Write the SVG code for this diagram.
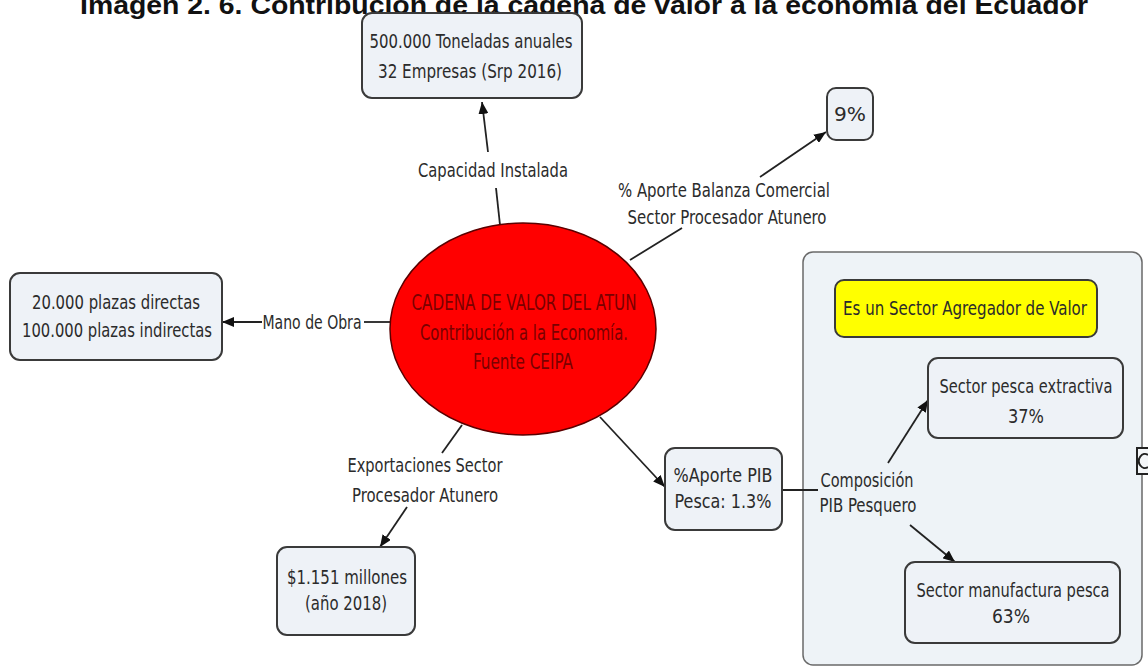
<svg xmlns="http://www.w3.org/2000/svg" width="1148" height="668" viewBox="0 0 1148 668">
<defs>
<marker id="ah" viewBox="0 0 12 10" refX="12" refY="5" markerWidth="12" markerHeight="10" markerUnits="userSpaceOnUse" orient="auto">
<path d="M0,0 L12,5 L0,10 z" fill="#111"/>
</marker>
<style>
.box{fill:#eef2f7;stroke:#3a3a3a;stroke-width:2}
.cont{fill:#eef3f7;stroke:#6a6a6a;stroke-width:1.5}
.t{font-family:"DejaVu Sans Condensed","DejaVu Sans","Liberation Sans",sans-serif;font-size:19px;fill:#2b2b2b;text-anchor:middle}
.et{font-family:"DejaVu Sans Condensed","DejaVu Sans","Liberation Sans",sans-serif;font-size:21px;fill:#7a0000;text-anchor:middle}
.ln{stroke:#222;stroke-width:1.8;fill:none}
.ttl{font-family:"Liberation Sans",Arial,sans-serif;font-size:25px;font-weight:bold;fill:#111}
</style>
</defs>
<rect width="1148" height="668" fill="#fff"/>
<text class="ttl" x="80" y="14" textLength="1008" lengthAdjust="spacingAndGlyphs">Imagen 2. 6. Contribución de la cadena de valor a la economía del Ecuador</text>

<g id="container">
<rect class="cont" x="803" y="252" width="339" height="413" rx="10"/>
</g>

<g id="connectors">
<path class="ln" d="M500,225 L496,188"/>
<path class="ln" d="M488,152 L482,102" marker-end="url(#ah)"/>
<text class="t" x="493" y="177" textLength="150" lengthAdjust="spacingAndGlyphs">Capacidad Instalada</text>
<path class="ln" d="M630,260 L682,228"/>
<path class="ln" d="M760,177 L826,132" marker-end="url(#ah)"/>
<text class="t" x="724" y="197" textLength="212" lengthAdjust="spacingAndGlyphs">% Aporte Balanza Comercial</text>
<text class="t" x="727" y="224" textLength="199" lengthAdjust="spacingAndGlyphs">Sector Procesador Atunero</text>
<path class="ln" d="M391,322 L364,322"/>
<path class="ln" d="M262,322 L222,322" marker-end="url(#ah)"/>
<text class="t" x="312" y="329" textLength="99" lengthAdjust="spacingAndGlyphs">Mano de Obra</text>
<path class="ln" d="M462,425 L442,453"/>
<path class="ln" d="M407,507 L380,547" marker-end="url(#ah)"/>
<text class="t" x="425" y="472" textLength="155" lengthAdjust="spacingAndGlyphs">Exportaciones Sector</text>
<text class="t" x="425" y="502" textLength="146" lengthAdjust="spacingAndGlyphs">Procesador Atunero</text>
<path class="ln" d="M600,417 L665,487" marker-end="url(#ah)"/>
<path class="ln" d="M782,490 L818,490"/>
<text class="t" x="867" y="487" textLength="93" lengthAdjust="spacingAndGlyphs">Composición</text>
<text class="t" x="868" y="512" textLength="97" lengthAdjust="spacingAndGlyphs">PIB Pesquero</text>
<path class="ln" d="M888,463 L928,400" marker-end="url(#ah)"/>
<path class="ln" d="M910,525 L955,562" marker-end="url(#ah)"/>
</g>

<g id="n-capacidad">
<rect class="box" x="362" y="13" width="220" height="85" rx="10"/>
<text class="t" x="471" y="48" textLength="203" lengthAdjust="spacingAndGlyphs">500.000 Toneladas anuales</text>
<text class="t" x="470" y="78" textLength="184" lengthAdjust="spacingAndGlyphs">32 Empresas (Srp 2016)</text>
</g>

<g id="n-9">
<rect class="box" x="827" y="88" width="46" height="52" rx="9"/>
<text class="t" x="850" y="121" textLength="32" lengthAdjust="spacingAndGlyphs">9%</text>
</g>

<g id="n-plazas">
<rect class="box" x="10" y="273" width="212" height="87" rx="10"/>
<text class="t" x="116" y="309" textLength="168" lengthAdjust="spacingAndGlyphs">20.000 plazas directas</text>
<text class="t" x="117" y="337" textLength="190" lengthAdjust="spacingAndGlyphs">100.000 plazas indirectas</text>
</g>

<g id="n-cadena">
<ellipse cx="523" cy="329" rx="133" ry="106" fill="#ff0000" stroke="#5a0000" stroke-width="1.5"/>
<text class="et" x="524" y="310" textLength="225" lengthAdjust="spacingAndGlyphs">CADENA DE VALOR DEL ATUN</text>
<text class="et" x="524" y="340" textLength="208" lengthAdjust="spacingAndGlyphs">Contribución a la Economía.</text>
<text class="et" x="523" y="369" textLength="100" lengthAdjust="spacingAndGlyphs">Fuente CEIPA</text>
</g>

<g id="n-exportaciones">
<rect class="box" x="277" y="547" width="138" height="88" rx="10"/>
<text class="t" x="347" y="584" textLength="120" lengthAdjust="spacingAndGlyphs">$1.151 millones</text>
<text class="t" x="346" y="610" textLength="82" lengthAdjust="spacingAndGlyphs">(año 2018)</text>
</g>

<g id="n-pib">
<rect class="box" x="665" y="448" width="117" height="82" rx="10"/>
<text class="t" x="723" y="482" textLength="99" lengthAdjust="spacingAndGlyphs">%Aporte PIB</text>
<text class="t" x="723" y="508" textLength="97" lengthAdjust="spacingAndGlyphs">Pesca: 1.3%</text>
</g>

<g id="n-agregador">
<rect x="835" y="280" width="262" height="57" rx="9" fill="#ffff00" stroke="#3a3a3a" stroke-width="2"/>
<text class="t" x="965" y="315" textLength="244" lengthAdjust="spacingAndGlyphs">Es un Sector Agregador de Valor</text>
</g>

<g id="n-extractiva">
<rect class="box" x="928" y="358" width="195" height="80" rx="10"/>
<text class="t" x="1026" y="393" textLength="173" lengthAdjust="spacingAndGlyphs">Sector pesca extractiva</text>
<text class="t" x="1026" y="423" textLength="36" lengthAdjust="spacingAndGlyphs">37%</text>
</g>

<g id="n-manufactura">
<rect class="box" x="905" y="562" width="215" height="81" rx="10"/>
<text class="t" x="1013" y="597" textLength="193" lengthAdjust="spacingAndGlyphs">Sector manufactura pesca</text>
<text class="t" x="1011" y="623" textLength="38" lengthAdjust="spacingAndGlyphs">63%</text>
</g>

<g id="icon">
<rect x="1137" y="448" width="14" height="26" fill="#f4f6f8" stroke="#222" stroke-width="2"/>
<path d="M1148,455 A6,7 0 1 0 1148,467" fill="none" stroke="#222" stroke-width="2"/>
</g>
</svg>
